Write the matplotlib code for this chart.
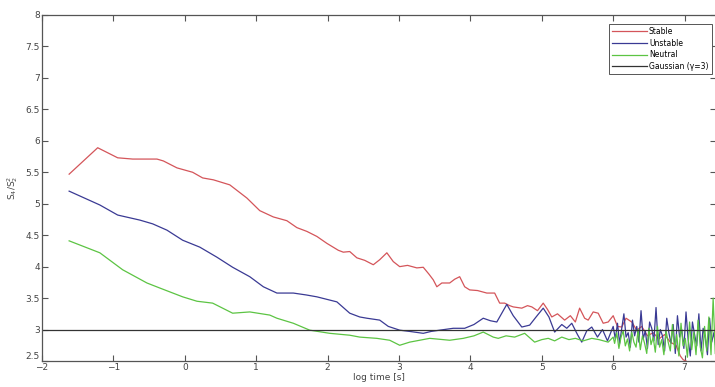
import matplotlib
matplotlib.use("Agg")
import matplotlib.pyplot as plt

# Stable
stable_x = [-1.62, -1.22, -0.94, -0.73, -0.39, -0.30, -0.11, 0.11, 0.25, 0.40, 0.63, 0.87,
            1.05, 1.24, 1.43, 1.57, 1.71, 1.85, 1.99, 2.15, 2.22, 2.31, 2.41, 2.52, 2.64,
            2.73, 2.83, 2.92, 3.01, 3.12, 3.25, 3.34, 3.42, 3.48, 3.53, 3.60, 3.71, 3.78,
            3.85, 3.92, 3.99, 4.10, 4.23, 4.34, 4.41, 4.48, 4.55, 4.60, 4.72, 4.80, 4.86,
            4.94, 5.02, 5.08, 5.14, 5.22, 5.32, 5.40, 5.47, 5.53, 5.60, 5.65, 5.72, 5.79,
            5.86, 5.93, 6.00, 6.06, 6.12, 6.18, 6.26, 6.33, 6.40, 6.48, 6.56, 6.64, 6.72,
            6.80, 6.88, 6.94, 6.98, 7.02]
stable_y = [5.47, 5.89, 5.73, 5.71, 5.71, 5.68, 5.57, 5.50, 5.41, 5.38, 5.30, 5.09,
            4.89, 4.79, 4.73, 4.62, 4.56, 4.48, 4.37, 4.26, 4.23, 4.24, 4.14, 4.10, 4.03,
            4.11, 4.22, 4.08, 4.00, 4.02, 3.98, 3.99, 3.88, 3.79, 3.68, 3.74, 3.74, 3.80,
            3.84, 3.68, 3.63, 3.62, 3.58, 3.58, 3.42, 3.42, 3.38, 3.36, 3.34, 3.38, 3.36,
            3.30, 3.42, 3.32, 3.20, 3.25, 3.15, 3.22, 3.12, 3.34, 3.18, 3.15, 3.28, 3.26,
            3.10, 3.12, 3.22, 3.05, 3.04, 3.18, 3.12, 2.99, 3.05, 2.90, 2.95, 2.85, 2.92,
            2.80, 2.75, 2.58, 2.52, 2.50]

# Unstable
unstable_x = [-1.62, -1.19, -0.94, -0.63, -0.45, -0.25, -0.03, 0.21, 0.45, 0.67, 0.91,
              1.10, 1.29, 1.52, 1.70, 1.85, 2.13, 2.22, 2.31, 2.45, 2.55, 2.73, 2.85,
              3.01, 3.15, 3.34, 3.45, 3.57, 3.76, 3.92, 4.05, 4.18, 4.28, 4.37, 4.45,
              4.51, 4.60, 4.72, 4.83, 4.92, 5.02, 5.10, 5.18, 5.28, 5.35, 5.42, 5.50,
              5.56, 5.63, 5.70, 5.78, 5.85, 5.92, 6.00,
              6.03, 6.06, 6.09, 6.12, 6.15, 6.18, 6.21, 6.24, 6.27, 6.30, 6.33, 6.36,
              6.39, 6.42, 6.45, 6.48, 6.51, 6.54, 6.57, 6.60, 6.63, 6.66, 6.69, 6.72,
              6.75, 6.78, 6.81, 6.84, 6.87, 6.90, 6.93, 6.96, 6.99, 7.02, 7.05, 7.08,
              7.11, 7.14, 7.17, 7.20, 7.23, 7.26, 7.29, 7.32, 7.35, 7.38, 7.41, 7.44]
unstable_y = [5.20, 4.98, 4.82, 4.74, 4.68, 4.58, 4.42, 4.31, 4.15, 3.99, 3.84,
              3.68, 3.58, 3.58, 3.55, 3.52, 3.44, 3.35, 3.26, 3.20, 3.18, 3.15, 3.05,
              2.99, 2.97, 2.94, 2.97, 2.99, 3.02, 3.02, 3.08, 3.18, 3.14, 3.12, 3.28,
              3.40, 3.22, 3.04, 3.07, 3.20, 3.34, 3.20, 2.96, 3.08, 3.02, 3.10, 2.92,
              2.80, 2.98, 3.04, 2.88, 3.00, 2.82, 3.05,
              2.85, 3.10, 2.78, 3.02, 3.25, 2.88, 2.95, 2.72, 3.15, 2.90, 3.05, 2.80,
              3.30, 2.85, 2.98, 2.70, 3.12, 3.02, 2.82, 3.35, 2.76, 3.00, 2.90, 2.66,
              3.18, 2.95, 2.78, 3.08, 2.62, 3.22, 2.88, 3.00, 2.70, 3.28, 2.84, 2.58,
              3.12, 2.92, 2.74, 3.25, 2.66, 3.02, 2.86, 2.60, 3.18, 2.80, 2.95, 2.70]

# Neutral
neutral_x = [-1.62, -1.19, -0.87, -0.53, -0.35, -0.03, 0.17, 0.39, 0.67, 0.91, 1.19,
             1.29, 1.52, 1.75, 2.03, 2.31, 2.45, 2.69, 2.87, 3.01, 3.15, 3.43, 3.71,
             3.90, 4.05, 4.18, 4.32, 4.39, 4.50, 4.62, 4.76, 4.90, 5.00, 5.09, 5.18,
             5.28, 5.38, 5.47, 5.58, 5.70, 5.80, 5.93, 6.00,
             6.02, 6.05, 6.08, 6.11, 6.14, 6.17, 6.20, 6.23, 6.26, 6.29, 6.32, 6.35,
             6.38, 6.41, 6.44, 6.47, 6.50, 6.53, 6.56, 6.59, 6.62, 6.65, 6.68, 6.71,
             6.74, 6.77, 6.80, 6.83, 6.86, 6.89, 6.92, 6.95, 6.98, 7.01, 7.04, 7.07,
             7.10, 7.13, 7.16, 7.19, 7.22, 7.25, 7.28, 7.31, 7.34, 7.37, 7.40, 7.43]
neutral_y = [4.41, 4.22, 3.95, 3.74, 3.66, 3.52, 3.45, 3.42, 3.26, 3.28, 3.23,
             3.18, 3.10, 2.99, 2.94, 2.91, 2.88, 2.86, 2.83, 2.75, 2.80, 2.86, 2.83,
             2.86, 2.90, 2.96, 2.88, 2.86, 2.90, 2.88, 2.94, 2.80, 2.84, 2.86, 2.82,
             2.88, 2.84, 2.86, 2.82, 2.86, 2.84, 2.80, 2.88,
             2.78, 2.95, 2.70, 2.88, 2.98, 2.74, 2.85, 2.66, 2.96, 2.80, 2.72, 3.00,
             2.68, 2.90, 2.78, 2.62, 3.02, 2.76, 2.88, 2.64, 3.05, 2.72, 2.84, 2.60,
             2.98, 2.80, 2.66, 3.08, 2.70, 2.92, 2.58, 3.10, 2.74, 2.86, 2.56, 3.12,
             2.68, 2.96, 2.60, 3.15, 2.72, 2.55, 3.05, 2.66, 3.20, 2.60, 3.50, 2.62]

gauss_level = 3
x_ticks = [-2, -1, 0, 1, 2, 3, 4, 5, 6, 7]
y_ticks = [2.5, 3, 3.5, 4, 4.5, 5, 5.5, 6, 6.5, 7, 7.5, 8]

fig = plt.figure(figsize=(7.15, 3.87), dpi=100)
ax = fig.add_axes([42 / 715, 26 / 387, 674 / 715, 346 / 387])

ax.plot(stable_x, stable_y, color="#d4555a", lw=0.9, label="Stable")
ax.plot(unstable_x, unstable_y, color="#3a3a94", lw=0.9, label="Unstable")
ax.plot(neutral_x, neutral_y, color="#5cc443", lw=0.9, label="Neutral")
ax.axhline(gauss_level, color="#333333", lw=0.9, label="Gaussian (\u03b3=3)")

ax.set_xlim(-2, 7.44)
ax.set_ylim(2.5, 8)
ax.set_xticks(x_ticks)
ax.set_yticks(y_ticks)
ax.set_yticklabels([f"{v:g}" for v in y_ticks])
ax.tick_params(direction="in", length=4, width=0.8, labelsize=6.5,
               labelcolor="#444444", color="#555555", top=True, right=True, pad=1.5)
# like the original, the lowest y label sits a little above the corner
ax.get_yticklabels()[0].set_verticalalignment("bottom")
for s in ax.spines.values():
    s.set_color("#555555")
    s.set_linewidth(0.9)

ax.set_xlabel("log time [s]", fontsize=6.5, color="#444444", labelpad=1)
ax.set_ylabel("S$_4$/S$_2^2$", fontsize=6.5, color="#444444", labelpad=4)

leg = ax.legend(loc="upper right", fontsize=5.5, handlelength=4.5, handletextpad=0.3,
                borderpad=0.4, labelspacing=0.35, fancybox=False, framealpha=1,
                edgecolor="#555555", bbox_to_anchor=(0.999, 0.985))
leg.get_frame().set_linewidth(0.7)

fig.savefig("out.png", dpi=100)
